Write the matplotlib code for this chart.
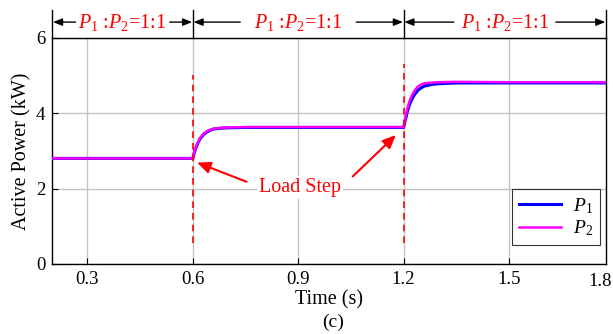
import matplotlib
matplotlib.use("Agg")
import matplotlib.pyplot as plt
import numpy as np

plt.rcParams['font.family'] = ['Liberation Serif']
plt.rcParams['mathtext.fontset'] = 'custom'
plt.rcParams['mathtext.rm'] = 'Liberation Serif'
plt.rcParams['mathtext.it'] = 'Liberation Serif:italic'

# ---- data ----
t_p1 = [0.20, 0.40, 0.600, 0.605, 0.610, 0.615, 0.620, 0.630, 0.640, 0.650, 0.660, 0.680, 0.700, 0.750, 0.900, 1.100,
        1.200, 1.205, 1.210, 1.215, 1.220, 1.230, 1.240, 1.250, 1.260, 1.280, 1.300, 1.350, 1.500, 1.800]
p1 = [2.80, 2.80, 2.80, 2.98, 3.11, 3.22, 3.31, 3.43, 3.50, 3.55, 3.58, 3.60, 3.61, 3.62, 3.62, 3.62,
      3.62, 3.82, 4.02, 4.18, 4.30, 4.48, 4.60, 4.67, 4.72, 4.76, 4.78, 4.80, 4.80, 4.80]
t_p2 = [0.20, 0.40, 0.600, 0.605, 0.610, 0.615, 0.620, 0.630, 0.640, 0.650, 0.660, 0.680, 0.700, 0.750, 0.900, 1.100,
        1.200, 1.205, 1.210, 1.215, 1.220, 1.230, 1.240, 1.250, 1.260, 1.280, 1.300, 1.350, 1.500, 1.800]
p2 = [2.80, 2.80, 2.80, 3.00, 3.13, 3.24, 3.33, 3.45, 3.52, 3.56, 3.59, 3.61, 3.62, 3.63, 3.63, 3.63,
      3.63, 3.88, 4.10, 4.27, 4.40, 4.58, 4.70, 4.76, 4.79, 4.81, 4.82, 4.83, 4.82, 4.82]
step_times = [0.6, 1.2]
step_line_top = [5.0, 5.3]
boundaries = [0.2, 0.6, 1.2, 1.8]
ratio_label = r'$P_1$ :$P_2$=1:1'
x_ticks = [0.3, 0.6, 0.9, 1.2, 1.5]
x_last_label = '1.8'
y_ticks = [0, 2, 4, 6]

XMIN, XMAX = 0.2, 1.776

fig = plt.figure(figsize=(6.13, 3.34), dpi=100)
ax = fig.add_axes([0.0853, 0.2096, 0.9033, 0.6775])

ax.plot(t_p1, p1, color='#0000ff', lw=2.2, label=r'$P_1$', zorder=3)
ax.plot(t_p2, p2, color='#ff00ff', lw=1.8, label=r'$P_2$', zorder=4)

# red dashed step markers
for ts, top in zip(step_times, step_line_top):
    ax.plot([ts, ts], [0.55, top], color='red', ls=(0, (4, 3)), lw=1.2, zorder=5)

ax.set_xlim(XMIN, XMAX)
ax.set_ylim(0, 6)
ax.set_xticks(x_ticks)
ax.set_xticklabels([f'{v:.1f}' for v in x_ticks])
ax.set_yticks(y_ticks)
ax.grid(True, color='#c4c4c4', lw=1.0)
ax.set_axisbelow(True)
ax.tick_params(direction='in', length=4, labelsize=13.5, top=False, right=False, pad=5)
for s in ax.spines.values():
    s.set_linewidth(1.0)
# last tick label (right edge)
ax.annotate(x_last_label, xy=(1.0, 0), xycoords='axes fraction', xytext=(4, -6.5),
            textcoords='offset points', ha='right', va='top', fontsize=13.5)
ax.set_xlabel('Time (s)', fontsize=14.5, labelpad=1.5)
ax.set_ylabel('Active Power (kW)', fontsize=14.5, labelpad=3)
fig.text(333 / 613, 1 - 322 / 334, '(c)', ha='center', va='center', fontsize=14)

# Load Step annotation
ax.text(0.904, 2.02, 'Load Step', color='red', fontsize=14.5, ha='center', va='center',
        bbox=dict(facecolor='white', edgecolor='none', pad=1.5), zorder=6)
ax.annotate('', xy=(0.612, 2.69), xytext=(0.753, 2.18),
            arrowprops=dict(arrowstyle='-|>,head_length=0.8,head_width=0.35', color='red', lw=1.5,
                            shrinkA=0, shrinkB=0), zorder=6)
ax.annotate('', xy=(1.178, 3.42), xytext=(1.055, 2.32),
            arrowprops=dict(arrowstyle='-|>,head_length=0.8,head_width=0.35', color='red', lw=1.5,
                            shrinkA=0, shrinkB=0), zorder=6)

leg = ax.legend(loc='lower right', fontsize=14, frameon=True, fancybox=False,
                edgecolor='black', handlelength=2.2, borderpad=0.35, labelspacing=0.15,
                handletextpad=0.6, borderaxespad=0, bbox_to_anchor=(0.989, 0.084))
leg.get_frame().set_linewidth(0.8)

# top ratio annotations
trans = ax.get_xaxis_transform()
segment_gaps = [0.134, 0.165, 0.145]
bx = [min(b, XMAX) for b in boundaries]
for b in bx:
    ax.plot([b, b], [1.0, 1.122], color='black', lw=1.0, transform=trans, clip_on=False)
for (a, b), gap in zip(zip(bx[:-1], bx[1:]), segment_gaps):
    mid = 0.5 * (a + b)
    ax.text(mid, 1.066, ratio_label, color='red', fontsize=14.5, ha='center', va='center',
            transform=trans, clip_on=False)
    for end, tail in ((a + 0.002, mid - gap), (b - 0.002, mid + gap)):
        ax.annotate('', xy=(end, 1.069), xytext=(tail, 1.069),
                    xycoords=trans, textcoords=trans,
                    arrowprops=dict(arrowstyle='-|>,head_length=0.55,head_width=0.22', color='black',
                                    lw=1.0, shrinkA=0, shrinkB=0))

fig.savefig('out.png', dpi=100)
